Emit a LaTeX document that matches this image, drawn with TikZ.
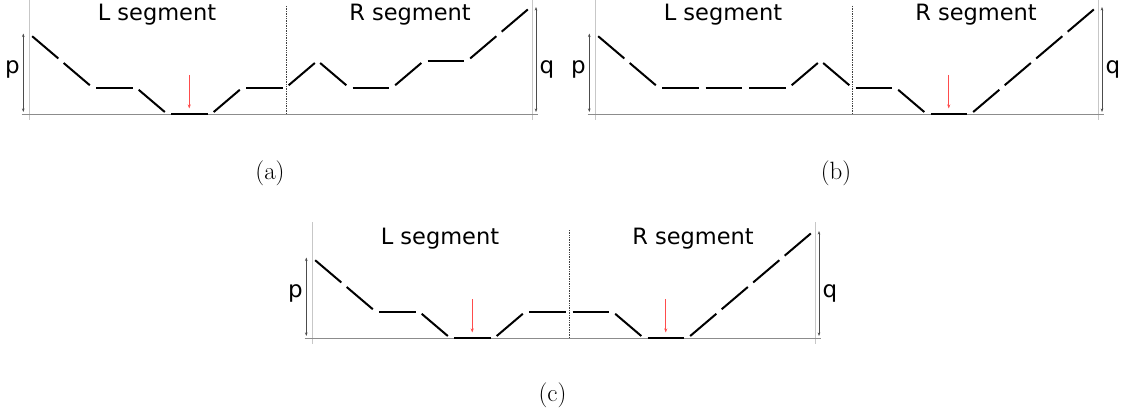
\documentclass[tikz,border=0pt]{standalone}
\usepackage{fontspec}
\newfontfamily\dejavu{DejaVu Sans}
\usetikzlibrary{arrows.meta}
\tikzset{
  seg/.style={line width=2pt, black, shorten <=3.5pt, shorten >=3.5pt},
  framev/.style={black!22, line width=0.8pt},
  framebase/.style={black!45, line width=0.8pt},
  divider/.style={densely dotted, line width=0.7pt, black!75},
  dimarrow/.style={{Stealth[length=3.5pt,width=2.6pt]}-{Stealth[length=3.5pt,width=2.6pt]}, black!70, line width=0.6pt},
  marker/.style={-{Stealth[length=4pt,width=3pt]}, red!70, line width=0.7pt},
  seglabel/.style={font=\dejavu\fontsize{22.5}{23}\selectfont, anchor=base, inner sep=0pt},
  dimlabel/.style={font=\dejavu\fontsize{23}{23}\selectfont, inner sep=0pt},
  caplabel/.style={font=\fontsize{25}{25}\selectfont, inner sep=0pt}
}
\newcommand\panelframe[1]{%
  \coordinate (#1lt) at (29.3,-2);  \coordinate (#1lb) at (29.3,120);
  \coordinate (#1rt) at (532.3,-2); \coordinate (#1rb) at (532.3,120);
  \coordinate (#1bl) at (21.7,114.3); \coordinate (#1br) at (538,114.3);
  \coordinate (#1dt) at (286,6); \coordinate (#1db) at (286,114.3);
  \coordinate (#1pt) at (23.3,33.5); \coordinate (#1pb) at (23.3,112);
  \coordinate (#1qt) at (536,7); \coordinate (#1qb) at (536,112);
  \draw[framev] (#1lt) -- (#1lb);
  \draw[framev] (#1rt) -- (#1rb);
  \draw[framebase] (#1bl) -- (#1br);
  \draw[divider] (#1dt) -- (#1db);
  \draw[dimarrow] (#1pt) -- (#1pb);
  \draw[dimarrow] (#1qt) -- (#1qb);
  \node[seglabel] (#1L) at (157,20.5) {L segment};
  \node[seglabel] (#1R) at (410,20.5) {R segment};
  \node[dimlabel] (#1p) at (12.3,69) {p};
  \node[dimlabel] (#1q) at (547,69) {q};
}
\newcommand\panelpath[2]{%
  \foreach \xx/\ll [count=\i from 0] in {#2}
    \coordinate (#1v\i) at (\xx,{114.3-26.78*\ll});
  \foreach \i [evaluate=\i as \j using int(\i+1)] in {0,...,13}
    \draw[seg] (#1v\i) -- (#1v\j);
}
\newcommand\panelmarker[2]{%
  \coordinate (#1mt) at (#2,75);
  \coordinate (#1mb) at (#2,108.5);
  \draw[marker] (#1mt) -- (#1mb);
}
\begin{document}
\begin{tikzpicture}[x=1pt,y=-1pt]
\useasboundingbox (0,0) rectangle (1122,417);
% panel (a)
\begin{scope}
  \panelframe{a}
  \panelpath{a}{29.5/3,61/2,92.5/1,136/1,167.5/0,211/0,242.5/1,286/1,317.5/2,349/1,392.5/1,424/2,467.5/2,499/3,530.5/4}
  \panelmarker{a}{189.25}
\end{scope}
% panel (b)
\begin{scope}[shift={(566,0)}]
  \panelframe{b}
  \panelpath{b}{29.5/3,61/2,92.5/1,136/1,179.5/1,223/1,254.5/2,286/1,329.5/1,361/0,404.5/0,436/1,467.5/2,499/3,530.5/4}
  \panelmarker{b}{382.75}
\end{scope}
% panel (c)
\begin{scope}[shift={(283,224)}]
  \panelframe{c}
  \panelpath{c}{29.5/3,61/2,92.5/1,136/1,167.5/0,211/0,242.5/1,286/1,329.5/1,361/0,404.5/0,436/1,467.5/2,499/3,530.5/4}
  \panelmarker{c1}{189.25}
  \panelmarker{c2}{382.75}
\end{scope}
\node[caplabel] (capa) at (270,173) {(a)};
\node[caplabel] (capb) at (836,173) {(b)};
\node[caplabel] (capc) at (552.5,395) {(c)};
\end{tikzpicture}
\end{document}
